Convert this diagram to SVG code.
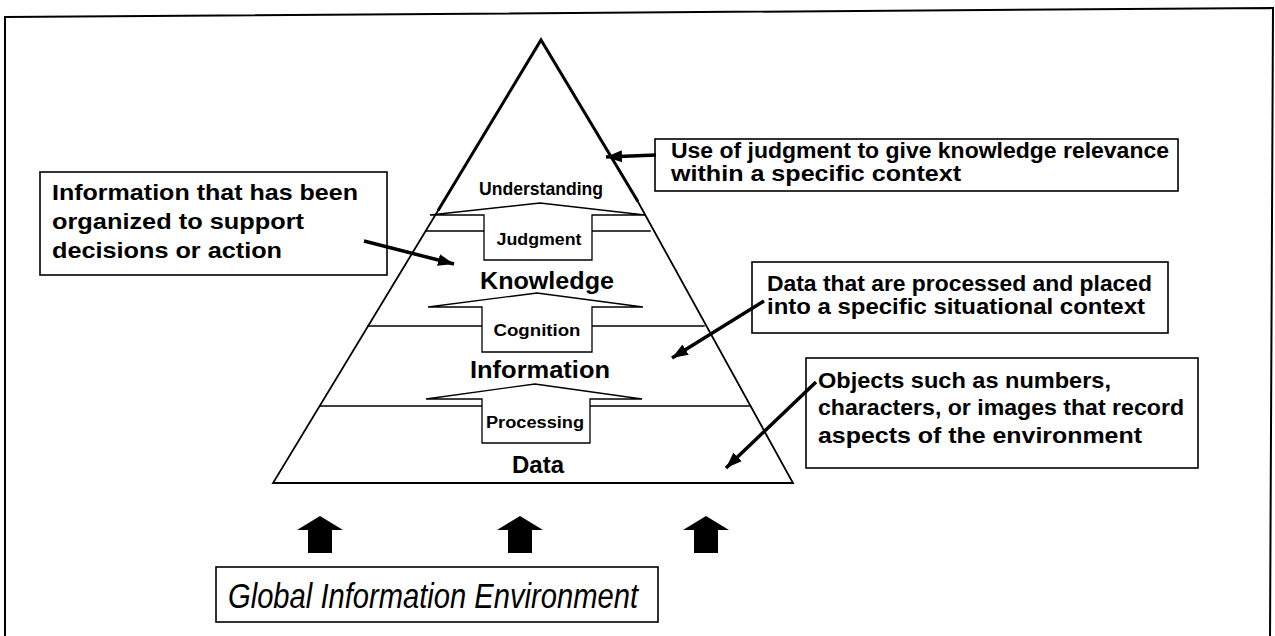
<svg xmlns="http://www.w3.org/2000/svg" width="1275" height="636" viewBox="0 0 1275 636">
<style>
.ln{stroke:#000;fill:none;stroke-linecap:square}
.box{stroke:#000;stroke-width:1.6;fill:#fff}
.blk{stroke:#000;stroke-width:1.3;fill:#fff;stroke-linejoin:miter}
.t{font-family:"Liberation Sans",Arial,Helvetica,sans-serif;font-weight:bold;fill:#000}
.lbl{font-family:"Liberation Sans",Arial,Helvetica,sans-serif;font-weight:bold;fill:#000;font-size:22px}
.ptr{stroke:#000;stroke-width:3.5;fill:none}
.up{fill:#000;stroke:none}
</style>
<defs>
<marker id="ah" markerUnits="userSpaceOnUse" markerWidth="18" markerHeight="14" refX="16" refY="7" orient="auto">
<path d="M0,1 L16,7 L0,13 Z" fill="#000"/>
</marker>
</defs>
<rect x="0" y="0" width="1275" height="636" fill="#fff"/>
<path class="ln" stroke-width="2" d="M5,17 L1273,8 L1270,640 M5,17 L5,640"/>

<g id="pyramid">
<path class="ln" stroke-width="3" d="M439,209 L541,40 L637,200"/>
<path class="ln" stroke-width="1.8" d="M439,209 L273,483 L793,483 L637,200"/>
<path class="ln" stroke-width="1.5" d="M426,231 L484,231 M592,231 L650,231"/>
<path class="ln" stroke-width="1.5" d="M368,326 L482,326 M592,326 L704,326"/>
<path class="ln" stroke-width="1.5" d="M320,406 L482,406 M590,406 L749,406"/>
</g>

<g id="judgment">
<path class="blk" d="M540,203 L645,215 L592,215 L592,260 L484,260 L484,215 L430,215 Z"/>
<text class="t" x="539" y="245" font-size="16" text-anchor="middle" textLength="85" lengthAdjust="spacingAndGlyphs">Judgment</text>
</g>
<g id="cognition">
<path class="blk" d="M537,293 L643,307 L592,307 L592,352 L482,352 L482,307 L428,307 Z"/>
<text class="t" x="537" y="336" font-size="16" text-anchor="middle" textLength="87" lengthAdjust="spacingAndGlyphs">Cognition</text>
</g>
<g id="processing">
<path class="blk" d="M535,384 L642,399 L590,399 L590,443 L482,443 L482,399 L426,399 Z"/>
<text class="t" x="535" y="428" font-size="16" text-anchor="middle" textLength="98" lengthAdjust="spacingAndGlyphs">Processing</text>
</g>

<g id="understanding"><text class="t" x="541" y="195" font-size="19" text-anchor="middle" textLength="124" lengthAdjust="spacingAndGlyphs">Understanding</text></g>
<g id="knowledge"><text class="t" x="547" y="289" font-size="24" text-anchor="middle" textLength="134" lengthAdjust="spacingAndGlyphs">Knowledge</text></g>
<g id="information"><text class="t" x="540" y="378" font-size="24" text-anchor="middle" textLength="140" lengthAdjust="spacingAndGlyphs">Information</text></g>
<g id="data"><text class="t" x="538" y="473" font-size="23" text-anchor="middle" textLength="52" lengthAdjust="spacingAndGlyphs">Data</text></g>

<g id="box-understanding">
<rect class="box" x="655" y="139" width="523" height="52"/>
<text class="lbl" x="671" y="158" textLength="498" lengthAdjust="spacingAndGlyphs">Use of judgment to give knowledge relevance</text>
<text class="lbl" x="671" y="181" textLength="290" lengthAdjust="spacingAndGlyphs">within a specific context</text>
</g>
<g id="box-knowledge">
<rect class="box" x="40" y="172" width="347" height="103"/>
<text class="lbl" x="52" y="200" textLength="306" lengthAdjust="spacingAndGlyphs">Information that has been</text>
<text class="lbl" x="52" y="229" textLength="252" lengthAdjust="spacingAndGlyphs">organized to support</text>
<text class="lbl" x="52" y="258" textLength="230" lengthAdjust="spacingAndGlyphs">decisions or action</text>
</g>
<g id="box-information">
<rect class="box" x="752" y="262" width="416" height="71"/>
<text class="lbl" x="767" y="291" textLength="385" lengthAdjust="spacingAndGlyphs">Data that are processed and placed</text>
<text class="lbl" x="767" y="314" textLength="378" lengthAdjust="spacingAndGlyphs">into a specific situational context</text>
</g>
<g id="box-data">
<rect class="box" x="806" y="358" width="392" height="110"/>
<text class="lbl" x="818" y="388" textLength="293" lengthAdjust="spacingAndGlyphs">Objects such as numbers,</text>
<text class="lbl" x="818" y="415" textLength="366" lengthAdjust="spacingAndGlyphs">characters, or images that record</text>
<text class="lbl" x="818" y="443" textLength="324" lengthAdjust="spacingAndGlyphs">aspects of the environment</text>
</g>

<g id="environment">
<rect class="box" x="216" y="567" width="442" height="55"/>
<text x="228" y="608" font-family="'Liberation Sans',Arial,Helvetica,sans-serif" font-style="italic" font-size="35" fill="#000" textLength="410" lengthAdjust="spacingAndGlyphs">Global Information Environment</text>
</g>

<g id="connectors">
<line class="ptr" x1="656" y1="155" x2="606" y2="157" marker-end="url(#ah)"/>
<line class="ptr" x1="364" y1="241" x2="454" y2="264" marker-end="url(#ah)"/>
<line class="ptr" x1="764" y1="301" x2="672" y2="358" marker-end="url(#ah)"/>
<line class="ptr" x1="816" y1="382" x2="726" y2="468" marker-end="url(#ah)"/>
<path class="up" d="M320,516 L343,530 L332,530 L332,553 L308,553 L308,530 L297,530 Z"/>
<path class="up" d="M520,516 L543,530 L532,530 L532,553 L508,553 L508,530 L497,530 Z"/>
<path class="up" d="M706,516 L729,530 L718,530 L718,553 L694,553 L694,530 L683,530 Z"/>
</g>
</svg>
